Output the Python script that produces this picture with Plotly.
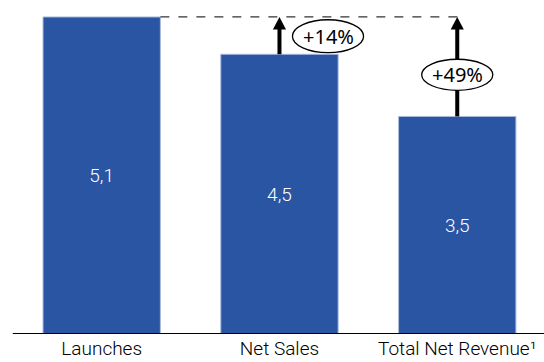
import plotly.graph_objects as go

# Chart data
categories = ["Launches", "Net Sales", "Total Net Revenue¹"]
values = [5.1, 4.5, 3.5]
uplift_labels = ["+14%", "+49%"]

BAR_COLOR = "#2A55A2"
x_pos = list(range(len(categories)))

fig = go.Figure()
fig.add_trace(go.Bar(
    x=x_pos,
    y=values,
    width=0.66,
    marker=dict(color=BAR_COLOR, line=dict(color="#A9B9DD", width=1)),
    texttemplate="%{y:.1f}",
    textposition="inside",
    insidetextanchor="middle",
    textfont=dict(family="Roboto", size=19, color="white", weight=300),
    hoverinfo="skip",
))

shapes = []
annotations = []
top = values[0]

# baseline
shapes.append(dict(type="line", xref="x", yref="y", x0=-0.5, x1=2.5, y0=0, y1=0,
                   line=dict(color="black", width=2), layer="above"))
# dashed reference line at the Launches level
shapes.append(dict(type="line", xref="x", yref="y", x0=0.33, x1=2.03, y0=top, y1=top,
                   line=dict(color="#333333", width=1.2, dash="dash"), layer="above"))

# arrows from each smaller bar up to the reference level
head_h = 0.2   # arrowhead height in data units
head_w = 0.037  # arrowhead half-width in data units
for i in (1, 2):
    shapes.append(dict(type="line", xref="x", yref="y", x0=i, x1=i,
                       y0=values[i], y1=top - head_h + 0.02,
                       line=dict(color="black", width=4), layer="above"))
    shapes.append(dict(type="path", xref="x", yref="y",
                       path=f"M {i - head_w},{top - head_h} L {i + head_w},{top - head_h} L {i},{top} Z",
                       fillcolor="black", line=dict(color="black", width=0), layer="above"))

# ellipse badges with the uplift percentage
badges = [(1.273, 4.79, 0.40, 0.53), (2.0, 4.17, 0.40, 0.50)]
for (cx, cy, w, h), label in zip(badges, uplift_labels):
    shapes.append(dict(type="circle", xref="x", yref="y",
                       x0=cx - w / 2, x1=cx + w / 2, y0=cy - h / 2, y1=cy + h / 2,
                       fillcolor="white", line=dict(color="black", width=1.3), layer="above"))
    annotations.append(dict(x=cx, y=cy, xref="x", yref="y", text=label, showarrow=False,
                            font=dict(family="Noto Sans", size=20, color="black")))

fig.update_layout(
    width=544, height=362,
    margin=dict(l=0, r=0, t=0, b=28),
    paper_bgcolor="white", plot_bgcolor="white",
    separators=",.",
    showlegend=False,
    shapes=shapes,
    annotations=annotations,
    xaxis=dict(range=[-0.572, 2.488], tickvals=x_pos, ticktext=categories,
               showgrid=False, zeroline=False, showline=False, ticks="",
               automargin=False, ticklabelstandoff=1,
               tickfont=dict(family="Roboto", size=19, color="black", weight=300)),
    yaxis=dict(range=[0, 5.373], visible=False, showgrid=False, zeroline=False),
)

fig.write_html("out.html")
